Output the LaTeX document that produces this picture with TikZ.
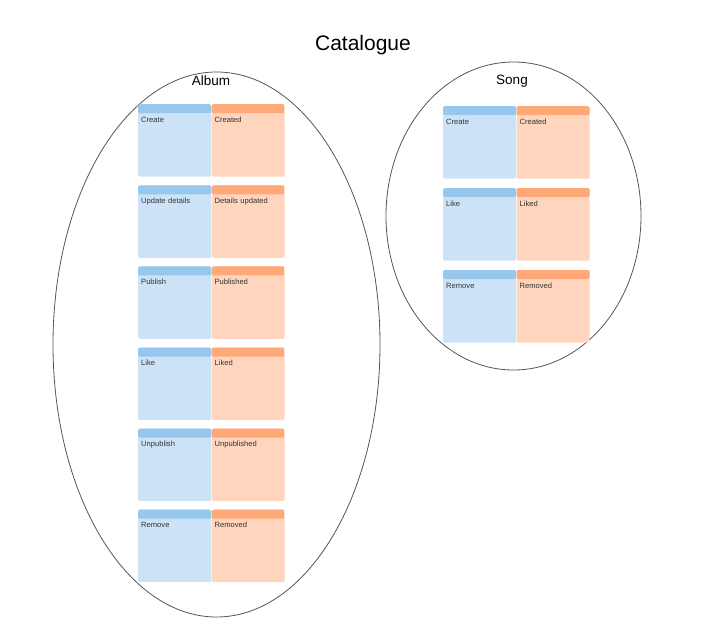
\documentclass[tikz,border=0pt]{standalone}
\usepackage{fontspec}
\setmainfont{Liberation Sans}
\usetikzlibrary{positioning,shapes.geometric}
\definecolor{cmdBody}{RGB}{204,227,247}
\definecolor{cmdHead}{RGB}{152,199,238}
\definecolor{evtBody}{RGB}{255,213,189}
\definecolor{evtHead}{RGB}{255,168,120}
\definecolor{ringLine}{RGB}{85,85,85}

\begin{document}
\begin{tikzpicture}
[x=1pt, y=-1pt, node distance=8.2pt,
% STYLES
% The area style is used to draw the aggregates' ellipses
area/.style={ellipse, draw=ringLine, line width=0.8pt, inner sep=0pt},
% The heading style is used for the aggregates' names
heading/.style={font=\fontsize{13.5}{16}\selectfont, text=black},
% The card style is the shared shape of commands and events
card/.style={rectangle, rounded corners=1.5pt, inner xsep=3pt, inner ysep=0pt,
  text width=67pt, align=left, text height=18pt, text depth=54.5pt,
  font=\fontsize{7.6}{9}\selectfont, text=black!80},
% The command style is used to draw the blue cards
command/.style={card, fill=cmdBody, path picture={\fill[cmdHead]
  (path picture bounding box.north west) rectangle ([yshift=-9pt]path picture bounding box.north east);}},
% The event style is used to draw the orange cards
event/.style={card, fill=evtBody, right=0pt of #1, path picture={\fill[evtHead]
  (path picture bounding box.north west) rectangle ([yshift=-9pt]path picture bounding box.north east);}}]

\useasboundingbox (0,0) rectangle (705,627);

% Draw title and areas
\node [font=\fontsize{21}{25}\selectfont] (title) at (363,45) {Catalogue};
\node [area, minimum width=327pt, minimum height=545pt] (album) at (216.5,344.5) {};
\node [area, minimum width=255pt, minimum height=308pt] (song) at (513.5,216) {};
\node [heading] (album-name) at (211,81) {Album};
\node [heading] (song-name) at (512,81.5) {Song};

%%%%%%%%%%%%%%%
% Album

\node [command, anchor=north west] (a-create) at (138,104) {Create};
\node [event=a-create] (a-created) {Created};

\node [command, below=of a-create] (a-update) {Update details};
\node [event=a-update] (a-updated) {Details updated};

\node [command, below=of a-update] (a-publish) {Publish};
\node [event=a-publish] (a-published) {Published};

\node [command, below=of a-publish] (a-like) {Like};
\node [event=a-like] (a-liked) {Liked};

\node [command, below=of a-like] (a-unpublish) {Unpublish};
\node [event=a-unpublish] (a-unpublished) {Unpublished};

\node [command, below=of a-unpublish] (a-remove) {Remove};
\node [event=a-remove] (a-removed) {Removed};

%%%%%%%%%%%%%%%
% Song

\node [command, anchor=north west] (s-create) at (443,106) {Create};
\node [event=s-create] (s-created) {Created};

\node [command, below=9pt of s-create] (s-like) {Like};
\node [event=s-like] (s-liked) {Liked};

\node [command, below=9pt of s-like] (s-remove) {Remove};
\node [event=s-remove] (s-removed) {Removed};

\end{tikzpicture}
\end{document}
